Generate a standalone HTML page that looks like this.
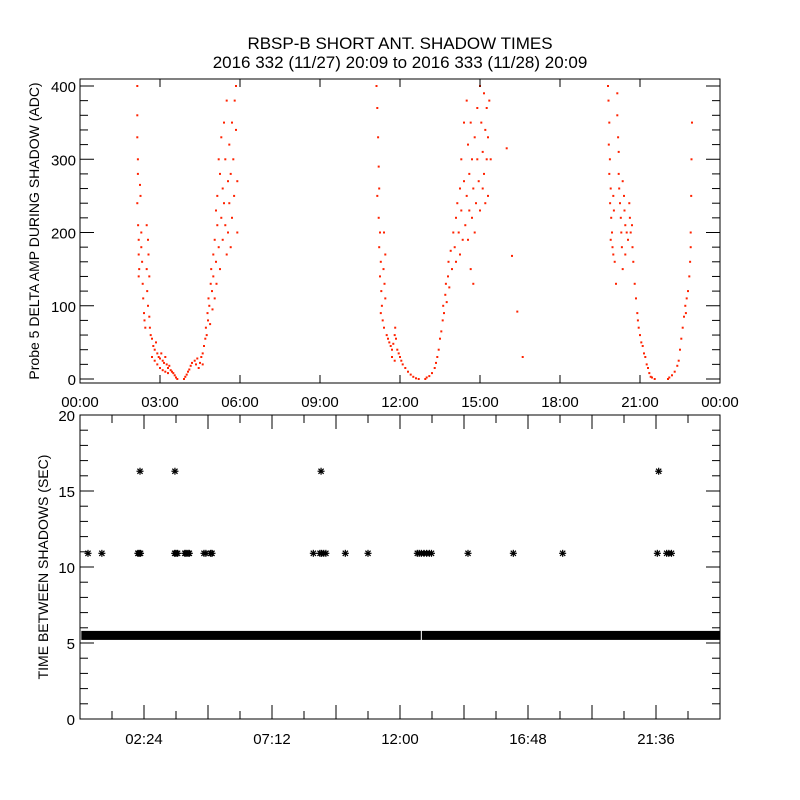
<!DOCTYPE html>
<html><head><meta charset="utf-8"><style>
body{margin:0;background:#fff}
svg{display:block;font-family:"Liberation Sans","DejaVu Sans",sans-serif}
</style></head><body>
<svg id="c" width="800" height="800" viewBox="0 0 800 800">
<rect width="800" height="800" fill="#fff"/>
<text x="400" y="49" text-anchor="middle" font-size="17">RBSP-B SHORT ANT. SHADOW TIMES</text>
<text x="400" y="68" text-anchor="middle" font-size="17">2016 332 (11/27) 20:09 to 2016 333 (11/28) 20:09</text>
<text transform="translate(39,231) rotate(-90)" text-anchor="middle" font-size="14">Probe 5 DELTA AMP DURING SHADOW (ADC)</text>
<text transform="translate(48,567) rotate(-90)" text-anchor="middle" font-size="14">TIME BETWEEN SHADOWS (SEC)</text>
<g id="topPanel"></g>
<g id="botPanel"></g>
</svg>
<script>
// ---- top panel data (hours, ADC) ----
const topHours = [2.15,2.15,2.15,2.17,2.17,2.15,2.18,2.2,2.2,2.22,2.2,2.25,2.27,2.3,2.3,2.33,2.35,2.37,2.4,2.42,2.45,2.5,2.52,2.55,2.5,2.55,2.57,2.6,2.6,2.62,2.65,2.7,2.75,2.8,2.85,2.9,2.95,3.0,3.05,3.1,3.15,3.2,3.25,3.3,3.35,3.4,3.45,3.5,3.55,3.6,3.65,2.7,2.8,2.9,3.0,3.1,3.2,3.3,
3.9,3.95,4.0,4.05,4.1,4.15,4.2,4.3,4.35,4.4,4.45,4.5,4.55,4.6,4.6,4.65,4.7,4.72,4.75,4.78,4.8,4.82,4.85,4.88,4.9,4.92,4.95,4.97,5.0,5.0,5.05,5.05,5.1,5.1,5.12,5.15,5.15,5.2,5.2,5.25,5.25,5.3,5.3,5.35,5.35,5.4,5.4,5.45,5.45,5.5,5.5,5.55,5.55,5.6,5.6,5.65,5.65,5.7,5.7,5.75,5.78,5.8,5.85,5.85,5.9,5.9,
11.12,11.15,11.18,11.2,11.15,11.22,11.2,11.25,11.22,11.28,11.25,11.3,11.32,11.28,11.35,11.4,11.38,11.42,11.45,11.4,11.45,11.5,11.55,11.6,11.65,11.7,11.75,11.8,11.82,11.85,11.9,11.95,12.0,12.05,11.7,11.8,12.1,12.2,12.3,12.4,12.5,12.6,12.7,
12.95,13.0,13.1,13.2,13.3,13.35,13.4,13.45,13.5,13.55,13.6,13.62,13.65,13.7,13.72,13.75,13.8,13.82,13.85,13.9,13.95,14.0,14.05,14.1,14.1,14.15,14.2,14.25,14.25,14.3,14.3,14.35,14.4,14.4,14.45,14.5,14.5,14.55,14.55,14.6,14.6,14.65,14.65,14.7,14.7,14.75,14.75,14.8,14.8,14.85,14.9,14.9,14.95,15.0,15.0,15.05,15.1,15.1,15.15,15.15,15.2,15.2,15.25,15.25,15.3,15.3,15.35,15.4,
16.0,16.2,16.4,16.6,
19.8,19.82,19.85,19.83,19.87,19.85,19.9,19.88,19.92,19.95,19.9,19.97,20.0,20.05,20.0,20.02,20.15,20.15,20.18,20.2,20.2,20.22,20.25,20.28,20.3,20.32,20.35,20.4,20.42,20.45,20.5,20.55,20.6,20.62,20.65,20.7,20.72,20.75,20.8,20.85,20.9,20.92,20.95,21.0,21.05,21.1,21.15,21.2,21.25,21.3,21.35,21.4,21.45,21.55,20.35,20.1,20.45,
22.05,22.1,22.2,22.3,22.4,22.45,22.5,22.55,22.6,22.65,22.7,22.72,22.75,22.8,22.85,22.88,22.9,22.92,22.93,22.95,22.9];
const topValues = [400,360,330,300,280,240,210,190,170,150,140,265,250,200,180,160,130,110,90,80,70,150,120,100,210,190,170,140,85,70,60,55,45,40,50,35,30,28,35,25,22,30,20,15,18,12,10,8,5,2,0,30,25,20,15,12,10,8,
0,3,6,10,13,18,22,25,20,28,15,22,30,20,35,45,55,70,60,90,80,110,100,75,130,150,120,95,170,140,110,190,160,230,130,210,250,180,300,280,150,220,330,190,260,350,240,210,300,170,380,270,200,320,240,280,180,350,220,300,250,380,400,340,200,270,
400,370,330,290,250,260,220,200,180,160,140,120,100,90,80,70,150,130,110,200,170,60,55,50,45,40,48,60,70,55,40,35,30,25,30,25,20,15,10,6,3,1,0,
0,2,4,8,15,22,30,40,55,65,80,100,90,115,130,105,140,160,125,175,150,200,180,220,160,240,200,260,170,230,300,190,270,350,210,380,250,320,190,280,230,350,150,300,220,260,130,330,200,240,370,300,270,400,230,350,310,260,390,280,340,240,300,370,330,250,380,300,
315,168,92,30,
400,380,350,320,300,280,260,240,220,200,190,180,170,160,250,230,390,360,330,310,280,260,240,220,200,180,270,250,230,210,200,190,240,220,200,210,180,160,130,110,90,80,70,60,50,45,35,30,20,15,8,3,2,0,150,130,170,
0,2,5,10,18,25,40,55,70,85,100,90,110,120,140,160,200,250,300,350,180];
const topYTicks = [0,100,200,300,400];
const topXTickLabels = ["00:00","03:00","06:00","09:00","12:00","15:00","18:00","21:00","00:00"];
// ---- bottom panel data ----
const bandSegments = [[0.05,12.78],[12.82,24.0]];
const bandValue = 5.5;
const midStarHours = [0.3,0.82,2.17,2.22,2.27,3.55,3.6,3.66,3.93,3.98,4.05,4.1,4.65,4.72,4.9,4.95,8.75,9.0,9.06,9.14,9.22,9.95,10.8,12.65,12.72,12.8,12.9,13.0,13.1,13.18,14.55,16.25,18.1,21.65,22.0,22.08,22.18];
const midStarValue = 10.9;
const highStarHours = [2.25,3.56,9.04,21.7];
const highStarValue = 16.3;
const botYTicks = [0,5,10,15,20];
const botXTickLabels = ["02:24","07:12","12:00","16:48","21:36"];

const NS="http://www.w3.org/2000/svg";
function el(tag, attrs, parent){const e=document.createElementNS(NS,tag);for(const k in attrs)e.setAttribute(k,attrs[k]);parent.appendChild(e);return e;}
const L=80,R=720;
const xH=h=>L+(R-L)*h/24;
const T0=79,T1=383;
const yT=v=>379-v*0.7325;
const B0=415,B1=719;
const yB=v=>B1-(B1-B0)*v/20;

const topG=document.getElementById('topPanel'), botG=document.getElementById('botPanel');

let f=el('rect',{x:L,y:T0,width:R-L,height:T1-T0,fill:'none',stroke:'#000','stroke-width':1},topG);


for(let i=0;i<topHours.length;i++){
  const p=el('rect',{x:(xH(topHours[i])-1).toFixed(1),y:(yT(topValues[i])-1).toFixed(1),width:2,height:2,fill:'#ff2200'},topG);
  
  
}
for(let v=0;v<=400;v+=20){
  const y=yT(v), len=(v%100===0)?14:8;
  el('line',{x1:L,y1:y,x2:L+len,y2:y,stroke:'#000'},topG);
  el('line',{x1:R,y1:y,x2:R-len,y2:y,stroke:'#000'},topG);
}
topYTicks.forEach(v=>{
  const t=el('text',{x:L-4,y:yT(v)+6,'text-anchor':'end','font-size':15},topG);
  t.textContent=v;
  
  
});
topXTickLabels.forEach((s,i)=>{
  const x=xH(i*3);
  el('line',{x1:x,y1:T1,x2:x,y2:T1-8,stroke:'#000'},topG);
  el('line',{x1:x,y1:T0,x2:x,y2:T0+8,stroke:'#000'},topG);
  const t=el('text',{x:x,y:T1+24,'text-anchor':'middle','font-size':15},topG);
  t.textContent=s;
  
  
});

f=el('rect',{x:L,y:B0,width:R-L,height:B1-B0,fill:'none',stroke:'#000','stroke-width':1},botG);


for(let v=0;v<=20;v++){
  const y=yB(v), len=(v%5===0)?14:8;
  el('line',{x1:L,y1:y,x2:L+len,y2:y,stroke:'#000'},botG);
  el('line',{x1:R,y1:y,x2:R-len,y2:y,stroke:'#000'},botG);
}
botYTicks.forEach(v=>{
  const t=el('text',{x:L-5,y:yB(v)+6,'text-anchor':'end','font-size':15},botG);
  t.textContent=v;
  
  
});
for(let k=1;k<20;k++){
  const x=xH(k*1.2), len=(k%2===0)?14:8;
  el('line',{x1:x,y1:B1,x2:x,y2:B1-len,stroke:'#000'},botG);
  el('line',{x1:x,y1:B0,x2:x,y2:B0+len,stroke:'#000'},botG);
}
botXTickLabels.forEach((s,i)=>{
  const x=xH(2.4+i*4.8);
  const t=el('text',{x:x,y:B1+25,'text-anchor':'middle','font-size':15},botG);
  t.textContent=s;
  
  
});
bandSegments.forEach(sg=>{
  const r=el('rect',{x:xH(sg[0]),y:yB(bandValue)-4.5,width:xH(sg[1])-xH(sg[0]),height:9,fill:'#000'},botG);
  
  
});
function star(h,v){
  const x=xH(h),y=yB(v),g=el('g',{stroke:'#000','stroke-width':1.2},botG);
  
  
  el('line',{x1:x-3.5,y1:y,x2:x+3.5,y2:y},g);
  el('line',{x1:x,y1:y-3.5,x2:x,y2:y+3.5},g);
  el('line',{x1:x-2.6,y1:y-2.6,x2:x+2.6,y2:y+2.6},g);
  el('line',{x1:x-2.6,y1:y+2.6,x2:x+2.6,y2:y-2.6},g);
}
midStarHours.forEach(h=>star(h,midStarValue));
highStarHours.forEach(h=>star(h,highStarValue));
</script>
</body></html>
